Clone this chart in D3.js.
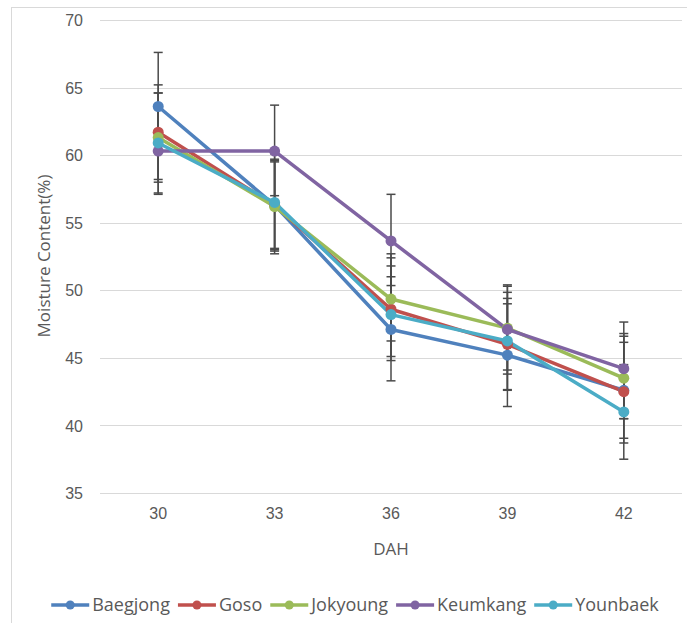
<!DOCTYPE html>
<html>
<head>
<meta charset="utf-8">
<script src="https://cdn.jsdelivr.net/npm/d3@7"></script>
<style>
  html, body { margin: 0; padding: 0; background: #fff; }
  svg { display: block; font-family: "Open Sans", "Noto Sans", sans-serif; }
</style>
</head>
<body>
<svg id="chart" width="687" height="623"></svg>
<script>
// ---- data ----
const categories = ["30", "33", "36", "39", "42"];
const seriesNames = ["Baegjong", "Goso", "Jokyoung", "Keumkang", "Younbaek"];
const seriesColors = ["#4F81BD", "#C0504D", "#9BBB59", "#8064A2", "#4BACC6"];

const baegjong = [63.6, 56.3, 47.1, 45.2, 42.6];
const goso     = [61.7, 56.3, 48.6, 46.0, 42.5];
const jokyoung = [61.3, 56.2, 49.35, 47.2, 43.5];
const keumkang = [60.3, 60.3, 53.65, 47.1, 44.2];
const younbaek = [60.9, 56.5, 48.2, 46.25, 41.0];

// error bar sizes (plus / minus)
const baegjongErrPlus  = [4.0, 3.3, 3.9, 3.8, 3.55];
const baegjongErrMinus = [3.3, 3.3, 3.8, 3.8, 3.55];
const gosoErrPlus      = [3.5, 3.2, 3.8, 3.4, 4.1];
const gosoErrMinus     = [3.5, 3.2, 3.8, 3.4, 3.8];
const jokyoungErrPlus  = [3.3, 3.5, 3.35, 3.1, 3.3];
const jokyoungErrMinus = [3.3, 3.5, 3.1, 3.1, 3.0];
const keumkangErrPlus  = [3.3, 3.4, 3.45, 3.3, 3.45];
const keumkangErrMinus = [3.2, 3.3, 3.3, 3.3, 3.7];
const younbaekErrPlus  = [3.7, 3.6, 3.6, 3.6, 3.5];
const younbaekErrMinus = [3.7, 3.6, 3.1, 3.6, 3.5];

const yTicks = [35, 40, 45, 50, 55, 60, 65, 70];
const xTitle = "DAH";
const yTitle = "Moisture Content(%)";

const seriesValues = [baegjong, goso, jokyoung, keumkang, younbaek];
const seriesErrPlus = [baegjongErrPlus, gosoErrPlus, jokyoungErrPlus, keumkangErrPlus, younbaekErrPlus];
const seriesErrMinus = [baegjongErrMinus, gosoErrMinus, jokyoungErrMinus, keumkangErrMinus, younbaekErrMinus];

const series = seriesNames.map((name, i) => ({
  name, color: seriesColors[i],
  points: categories.map((c, j) => ({
    c, v: seriesValues[i][j], hi: seriesValues[i][j] + seriesErrPlus[i][j], lo: seriesValues[i][j] - seriesErrMinus[i][j]
  }))
}));

// ---- layout ----
const svg = d3.select("#chart");
const plot = { left: 100, right: 682, top: 20, bottom: 493 };
const textColor = "#595959";
const gridColor = "#d9d9d9";

// chart border
svg.append("rect").attr("x", 11.5).attr("y", 7.5).attr("width", 690).attr("height", 640)
  .attr("fill", "none").attr("stroke", gridColor).attr("stroke-width", 1);

const x = d3.scaleBand().domain(categories).range([plot.left, plot.right]).padding(0);
const xc = c => x(c) + x.bandwidth() / 2;
const y = d3.scaleLinear().domain([35, 70]).range([plot.bottom, plot.top]);

// gridlines
svg.append("g").selectAll("line").data(yTicks).join("line")
  .attr("x1", plot.left).attr("x2", plot.right)
  .attr("y1", d => Math.round(y(d)) + 0.5).attr("y2", d => Math.round(y(d)) + 0.5)
  .attr("stroke", gridColor).attr("stroke-width", 1);

// y axis labels
const yAxis = d3.axisLeft(y).tickValues(yTicks).tickSize(0).tickPadding(0);
const gy = svg.append("g").attr("transform", `translate(83,0)`).call(yAxis);
gy.select(".domain").remove();
gy.selectAll("text").attr("fill", textColor).style("font-size", "16px").attr("dy", "0.35em");

// x axis labels
const xAxis = d3.axisBottom(x).tickSize(0).tickPadding(0);
const gx = svg.append("g").attr("transform", `translate(0,${plot.bottom + 15})`).call(xAxis);
gx.select(".domain").remove();
gx.selectAll("text").attr("fill", textColor).style("font-size", "16px").attr("dy", "0.71em");

// axis titles
svg.append("text").attr("x", xc(categories[2])).attr("y", 555)
  .attr("text-anchor", "middle").attr("fill", textColor).style("font-size", "17px").text(xTitle);
svg.append("text").attr("transform", `translate(50,256) rotate(-90)`)
  .attr("text-anchor", "middle").attr("fill", textColor).style("font-size", "17px").text(yTitle);

// error bars
const eb = svg.append("g");
series.forEach(s => {
  const g = eb.append("g");
  g.selectAll("line.v").data(s.points).join("line").attr("class", "v")
    .attr("x1", d => xc(d.c)).attr("x2", d => xc(d.c))
    .attr("y1", d => y(d.hi)).attr("y2", d => y(d.lo))
    .attr("stroke", "#4a4a4a").attr("stroke-width", 1.5);
  ["hi", "lo"].forEach(k => {
    g.selectAll("line." + k).data(s.points).join("line").attr("class", k)
      .attr("x1", d => xc(d.c) - 4.5).attr("x2", d => xc(d.c) + 4.5)
      .attr("y1", d => y(d[k])).attr("y2", d => y(d[k]))
      .attr("stroke", "#4a4a4a").attr("stroke-width", 1.5);
  });
});

// lines
const line = d3.line().x(d => xc(d.c)).y(d => y(d.v));
svg.append("g").selectAll("path").data(series).join("path")
  .attr("d", s => line(s.points)).attr("fill", "none")
  .attr("stroke", s => s.color).attr("stroke-width", 3.5)
  .attr("stroke-linejoin", "round").attr("stroke-linecap", "round");

// markers
series.forEach(s => {
  svg.append("g").selectAll("circle").data(s.points).join("circle")
    .attr("cx", d => xc(d.c)).attr("cy", d => y(d.v)).attr("r", 5.5)
    .attr("fill", s.color);
});

// legend
const legend = svg.append("g");
const legendY = 605;
const items = [];
series.forEach(s => {
  const g = legend.append("g");
  g.append("line").attr("x1", 0).attr("x2", 38).attr("y1", 0).attr("y2", 0)
    .attr("stroke", s.color).attr("stroke-width", 3.5);
  g.append("circle").attr("cx", 19).attr("cy", 0).attr("r", 4.5).attr("fill", s.color);
  const t = g.append("text").attr("x", 41).attr("y", 0).attr("dy", "0.35em")
    .attr("fill", textColor).style("font-size", "18px").text(s.name);
  const w = 41 + t.node().getComputedTextLength();
  items.push({ g, w });
});
const gap = 8;
const total = d3.sum(items, d => d.w) + gap * (items.length - 1);
let start = 355 - total / 2;
items.forEach(it => {
  it.g.attr("transform", `translate(${start},${legendY})`);
  start += it.w + gap;
});
</script>
</body>
</html>
